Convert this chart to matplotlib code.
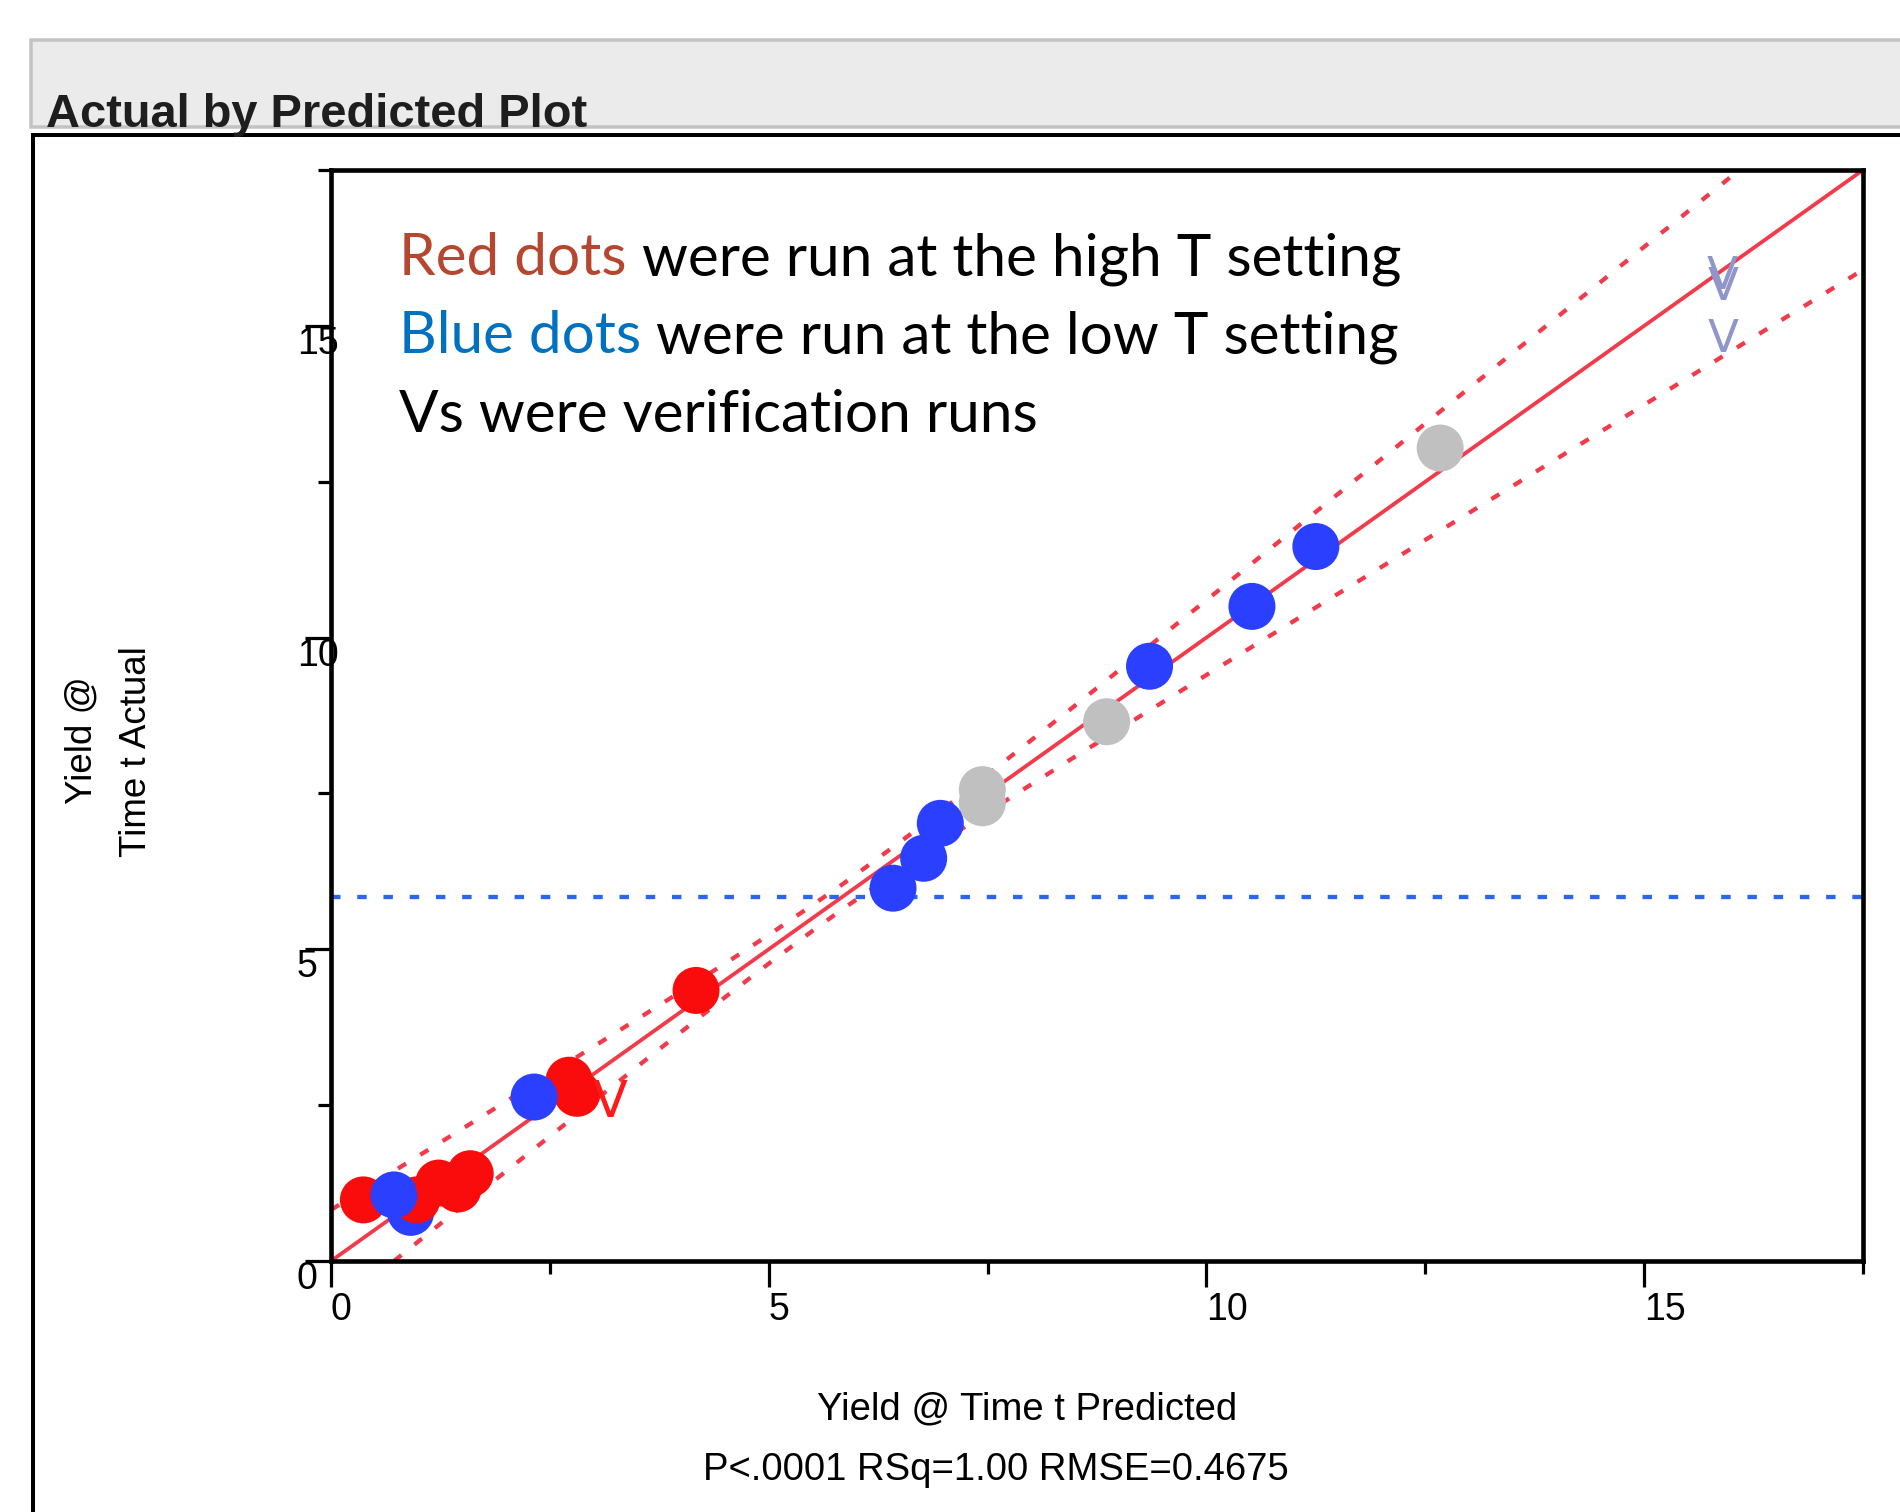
import matplotlib
matplotlib.use("Agg")
import matplotlib.pyplot as plt
from matplotlib.patches import Rectangle
from matplotlib.lines import Line2D
from matplotlib.ticker import MultipleLocator, FixedLocator

# ---------------- data ----------------
pred_x = [0.37, 0.91, 0.98, 0.72, 1.23, 1.45, 1.59, 2.72, 2.81, 2.32, 4.17,
          6.42, 6.77, 6.96, 7.44, 7.44, 8.86, 9.35, 10.52, 11.25, 12.67]
actual_y = [0.98, 0.78, 0.98, 1.06, 1.25, 1.155, 1.40, 2.90, 2.69, 2.63, 4.34,
            5.98, 6.46, 7.02, 7.56, 7.35, 8.65, 9.54, 10.50, 11.46, 13.04]
groups = ["high", "low", "high", "low", "high", "high", "high", "high", "high", "low", "high",
          "low", "low", "low", "other", "other", "other", "low", "low", "low", "other"]

verif_x = [3.19, 15.89, 15.90, 15.90]
verif_y = [2.61, 15.86, 15.69, 14.85]
verif_grp = ["high", "low", "low", "low"]

upper_x = [0, 0.75, 1.5, 2.5, 3.5, 4.5, 5.0, 5.5, 5.84, 6.2, 6.7, 7.5, 8.5, 10, 11.5, 13, 14.5, 16.06, 16.2]
upper_y = [0.82, 1.47, 2.12, 3.00, 3.88, 4.77, 5.23, 5.71, 6.04, 6.41, 6.93, 7.80, 8.91, 10.60, 12.30, 14.00, 15.70, 17.47, 17.62]
lower_x = [0.72, 1.5, 2.5, 3.5, 4.5, 5.0, 5.5, 5.84, 6.2, 6.7, 7.5, 8.5, 10, 11.5, 13, 14.5, 16, 17.5]
lower_y = [0.00, 0.88, 2.00, 3.12, 4.23, 4.77, 5.295, 5.64, 5.99, 6.47, 7.20, 8.09, 9.40, 10.70, 12.00, 13.30, 14.60, 15.90]
mean_actual = 5.84

axis_max = 17.5
major_ticks = [0, 5, 10, 15]
tick_labels = ["0", "5", "10", "15"]

title = "Actual by Predicted Plot"
xlabel = "Yield @ Time t Predicted"
ylabel_lines = ["Yield @", "Time t Actual"]
stats_text = "P<.0001 RSq=1.00 RMSE=0.4675"
notes = [
    [("Red dots", "#B5462F"), ("were run at the high T setting", "black")],
    [("Blue dots", "#0070C0"), ("were run at the low T setting", "black")],
    [("Vs were verification runs", "black")],
]

# ---------------- style ----------------
W, H, DPI = 1900, 1512, 100
PX = 72.0 / DPI  # points per pixel
dot_colors = {"high": "#FA0C0C", "low": "#2B40FF", "other": "#C0C0C0"}
v_colors = {"high": "#FF1A1A", "low": "#8F97CA"}
fit_red = "#F23A4B"
mean_blue = "#2E64F5"
SANS = ["Liberation Sans", "DejaVu Sans"]
NOTE_FONT = ["Lato", "DejaVu Sans"]


def fx(x):
    return x / W


def fy(y):
    return 1 - y / H


fig = plt.figure(figsize=(W / DPI, H / DPI), dpi=DPI)
fig.patch.set_facecolor("white")

# header box and frame
fig.add_artist(Rectangle((fx(31), fy(127)), (W + 60) / W, (127 - 40) / H,
                         transform=fig.transFigure, facecolor="#EBEBEB",
                         edgecolor="#C3C3C3", linewidth=3.5 * PX, zorder=1))
fig.add_artist(Line2D([fx(33), fx(33), 1.05], [-0.05, fy(135), fy(135)],
                      transform=fig.transFigure, color="black",
                      linewidth=4 * PX, zorder=2, solid_joinstyle="miter"))
fig.text(fx(46), fy(127), title, fontsize=33.8, fontweight="bold",
         family=SANS, va="baseline", ha="left", color="#1E1E1E", zorder=3)

# axes
ax = fig.add_axes([fx(331), fy(1261), 1532 / W, 1091 / H])
ax.set_xlim(0, axis_max)
ax.set_ylim(0, axis_max)

dash = (0, (2.2, 3.9))
ax.plot(upper_x, upper_y, color=fit_red, lw=4.3 * PX, linestyle=dash, zorder=2)
ax.plot(lower_x, lower_y, color=fit_red, lw=4.3 * PX, linestyle=dash, zorder=2)
ax.axline((0, 0), slope=1, color=fit_red, lw=3.8 * PX, zorder=2)
ax.axhline(mean_actual, color=mean_blue, lw=4.3 * PX, linestyle=dash, zorder=2)

ax.scatter(pred_x, actual_y, s=(47 * PX) ** 2, c=[dot_colors[g] for g in groups],
           linewidths=0, zorder=3)
for vx, vy, vg in zip(verif_x, verif_y, verif_grp):
    ms = 37 if vg == "high" else 33
    ax.scatter([vx], [vy], s=(ms * PX) ** 2, marker=r"$\mathrm{V}$",
               color=v_colors[vg], linewidths=0, zorder=4)

for sp in ax.spines.values():
    sp.set_linewidth(4.6 * PX)
    sp.set_color("black")

ax.xaxis.set_major_locator(FixedLocator(major_ticks))
ax.yaxis.set_major_locator(FixedLocator(major_ticks))
ax.xaxis.set_minor_locator(MultipleLocator(2.5))
ax.yaxis.set_minor_locator(MultipleLocator(2.5))
ax.set_xticklabels(tick_labels)
ax.set_yticklabels(tick_labels)
ax.tick_params(which="major", length=26 * PX, width=3.2 * PX, direction="out",
               labelsize=27, labelfontfamily="Liberation Sans")
ax.tick_params(which="minor", length=13 * PX, width=3.2 * PX, direction="out")
ax.tick_params(axis="x", which="major", pad=3.5)
ax.tick_params(axis="y", which="major", pad=5.8)
for lab in ax.get_xticklabels():
    lab.set_ha("left")
for lab in ax.get_yticklabels():
    lab.set_ha("left")
    lab.set_va("top")

# axis titles
fig.text(fx(1027), fy(1419), xlabel, fontsize=27.5, family=SANS,
         ha="center", va="baseline")
fig.text(fx(996), fy(1480), stats_text, fontsize=27.5, family=SANS,
         ha="center", va="baseline")
fig.text(fx(82), fy(740), ylabel_lines[0], fontsize=26.5, family=SANS,
         rotation=90, ha="center", va="center")
fig.text(fx(136), fy(752), ylabel_lines[1], fontsize=26.5, family=SANS,
         rotation=90, ha="center", va="center")

# annotation text (Calibri-like), size fitted to the reference line width
renderer = fig.canvas.get_renderer()


def text_width(s, size):
    t = fig.text(0, 0, s, fontsize=size, family=NOTE_FONT)
    w = t.get_window_extent(renderer).width
    t.remove()
    return w


line1 = " ".join(seg for seg, _ in notes[0])
base = 40.0
note_size = base * 1001.0 / text_width(line1, base)
note_x0 = 399
note_baselines = [275, 353, 432]
for segs, yb in zip(notes, note_baselines):
    x = note_x0
    for i, (seg, col) in enumerate(segs):
        fig.text(fx(x), fy(yb), seg, fontsize=note_size, family=NOTE_FONT,
                 color=col, ha="left", va="baseline", zorder=5)
        if i + 1 < len(segs):
            nxt = segs[i + 1][0]
            x = x + text_width(seg + " " + nxt, note_size) - text_width(nxt, note_size)

fig.savefig("out.png", dpi=DPI, facecolor="white")
